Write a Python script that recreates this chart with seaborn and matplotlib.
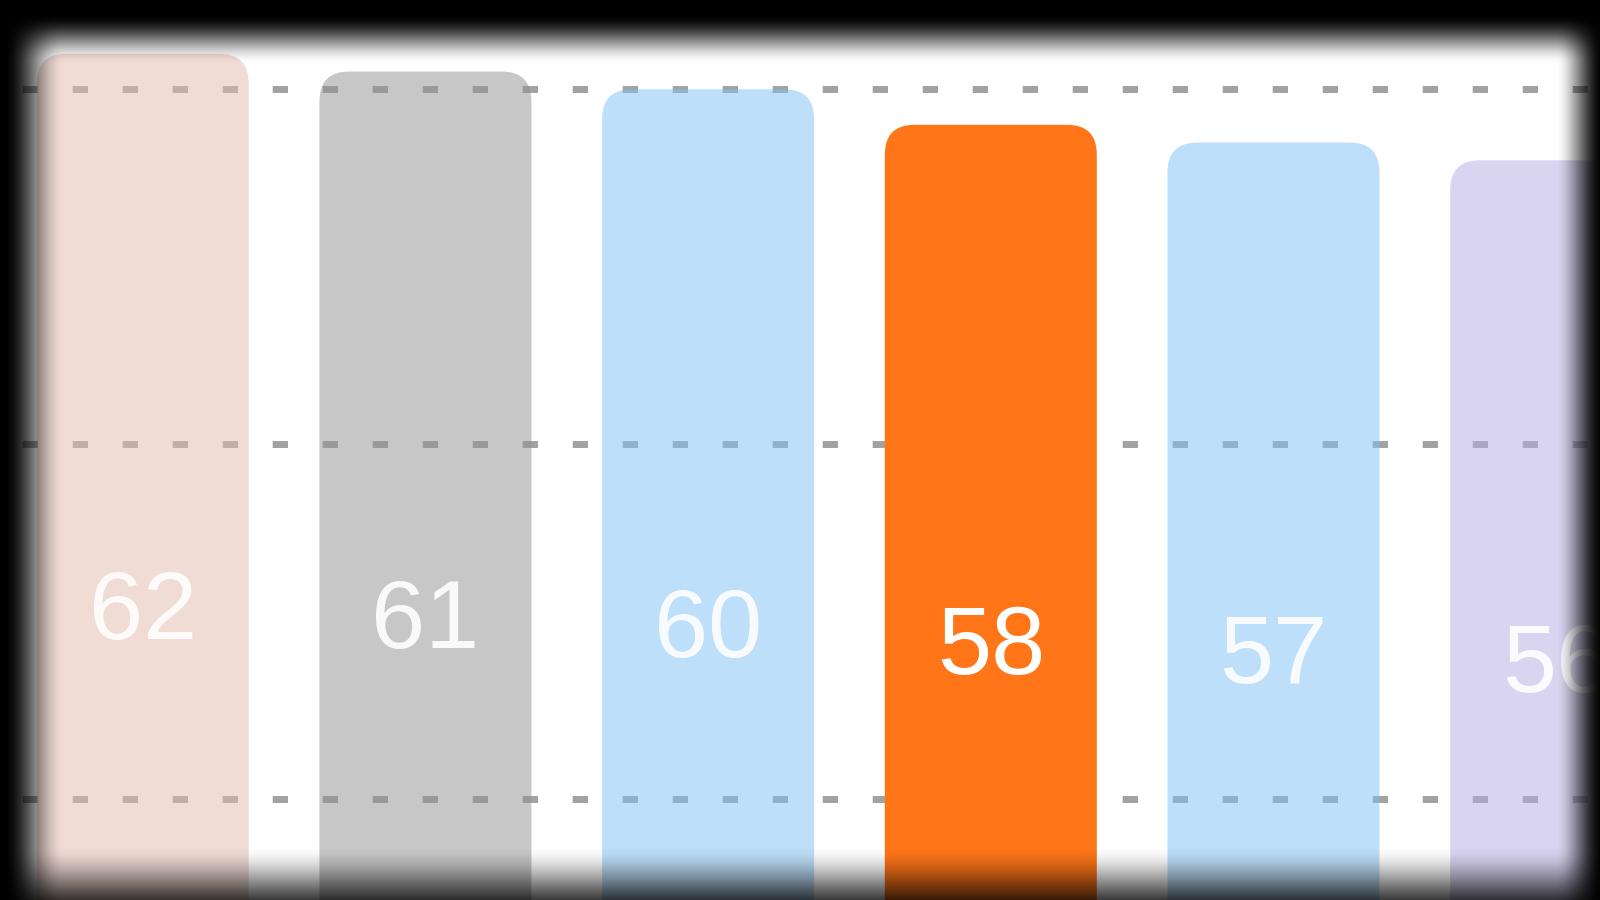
import numpy as np
import pandas as pd
import matplotlib
matplotlib.use("Agg")
import matplotlib.pyplot as plt
import seaborn as sns
from matplotlib.patches import FancyBboxPatch

# data
categories = ["A", "B", "C", "D", "E", "F"]
values = [62, 61, 60, 58, 57, 56]
bar_colors = ["#E5B9AD", "#919191", "#7FC1F5", "#FF7518", "#7FC1F5", "#B5ADE5"]
bar_alpha = [0.5, 0.5, 0.5, 1.0, 0.5, 0.5]
grid_values = [20, 40, 60]

df = pd.DataFrame({"cat": categories, "val": values})

sns.set_theme(style="white")
plt.rcParams["font.family"] = ["Liberation Sans", "DejaVu Sans"]

fig = plt.figure(figsize=(16, 9), dpi=100)
ax = fig.add_axes([0, 0, 1, 1])

sns.barplot(data=df, x="cat", y="val", hue="cat", palette=bar_colors,
            width=0.75, legend=False, ax=ax, saturation=1)

# dashed grid behind bars
for g in grid_values:
    ax.axhline(g, color="#a2a2a2", lw=5, zorder=0,
               linestyle=(4.0, (2.2, 5.0)), dash_capstyle="butt")

ax.set_xlim(-0.505, 5.155)
ax.set_ylim(14.33, 65.03)
ax.set_axis_off()

# swap rectangles for rounded ones
for p, c, a in zip(list(ax.patches), bar_colors, bar_alpha):
    x, y, w, h = p.get_x(), p.get_y(), p.get_width(), p.get_height()
    p.remove()
    rb = FancyBboxPatch((x, y), w, h,
                        boxstyle="round,pad=0,rounding_size=0.105",
                        mutation_aspect=16, facecolor=c, edgecolor="none",
                        alpha=a, zorder=2)
    ax.add_patch(rb)

for i, v in enumerate(values):
    ax.text(i, v / 2 - 0.55, str(v), ha="center", va="center", fontsize=70,
            color="white", alpha=1.0 if bar_alpha[i] == 1.0 else 0.9, zorder=3)

# dark vignette around the frame, one soft fade per edge
W, H = 1600, 900
xx, yy = np.meshgrid(np.arange(W, dtype=float), np.arange(H, dtype=float))


def fade(dist, width):
    t = np.clip(dist / width, 0, 1)
    return t * t * (3 - 2 * t)


a_left = fade(64 - xx, 60)
a_right = fade(xx - 1555, 48)
a_top = fade(64 - yy, 50)
a_bot = fade(yy - 844, 80)
alpha = 1 - (1 - a_left) * (1 - a_right) * (1 - a_top) * (1 - a_bot)
vign = np.zeros((H, W, 4))
vign[..., 3] = alpha
ov = fig.add_axes([0, 0, 1, 1], zorder=10)
ov.imshow(vign, aspect="auto", interpolation="bilinear")
ov.set_axis_off()

fig.savefig("out.png", dpi=100)
